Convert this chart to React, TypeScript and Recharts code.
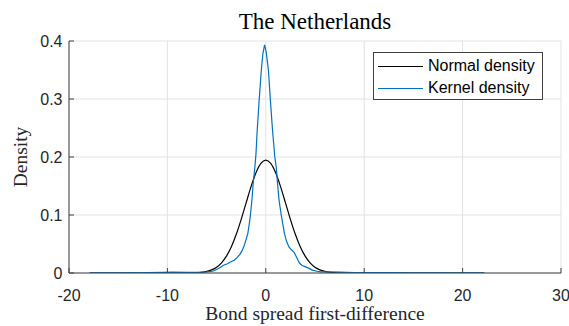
import { LineChart, Line, XAxis, YAxis, CartesianGrid, Legend } from 'recharts'

const AXIS = '#404040'
const GRID = '#e3e3e3'
const TXT = '#262626'
const BLUE = '#0072bd'
const SANS = '"Liberation Sans", Arial, sans-serif'
const SERIF = '"Liberation Serif", "Times New Roman", serif'

const SERIES_NAMES = ['Normal density', 'Kernel density']
const X_TICKS = [-20, -10, 0, 10, 20, 30]
const Y_TICKS = [0, 0.1, 0.2, 0.3, 0.4]

// normal density (black)
const normalX = [-17.9, -10, -9, -8, -7, -6.5, -6, -5.5, -5, -4.5, -4, -3.5, -3, -2.5, -2, -1.5, -1, -0.5, 0,
  0.5, 1, 1.5, 2, 2.5, 3, 3.5, 4, 4.5, 5, 5.5, 6, 6.5, 7, 8, 9, 10, 22.2]
const normalY = [0, 0, 0, 0.0001, 0.0006, 0.0013, 0.0027, 0.0053, 0.0099, 0.0175, 0.029, 0.0453, 0.0667, 0.0925, 0.1209, 0.1489, 0.1728, 0.1889, 0.1946,
  0.1889, 0.1728, 0.1489, 0.1209, 0.0925, 0.0667, 0.0453, 0.029, 0.0175, 0.0099, 0.0053, 0.0027, 0.0013, 0.0006, 0.0001, 0, 0, 0]

// kernel density (blue)
const kernelX = [-17.9, -15, -12, -10.5, -9.5, -8, -7, -6, -5.4, -5, -4.6, -4.3, -3.9, -3.6, -3.2, -2.9, -2.6, -2.4, -2.2, -2,
  -1.83, -1.7, -1.56, -1.4, -1.29, -1.12, -1, -0.87, -0.66, -0.46, -0.3, -0.12, 0.05, 0.27, 0.45, 0.68, 0.91, 1.07, 1.2, 1.35,
  1.57, 1.75, 1.9, 2.1, 2.35, 2.6, 2.86, 3.1, 3.3, 3.46, 3.7, 4.05, 4.4, 4.74, 5.2, 5.6, 6.5, 7.5, 9, 10.5, 12, 13, 15, 18, 22.2]
const kernelY = [0.0003, 0.0004, 0.0006, 0.0012, 0.0015, 0.001, 0.0012, 0.002, 0.003, 0.006, 0.01, 0.0135, 0.016, 0.019, 0.022, 0.027, 0.033, 0.039, 0.047, 0.058,
  0.068, 0.082, 0.1, 0.128, 0.153, 0.181, 0.205, 0.247, 0.302, 0.349, 0.378, 0.3935, 0.38, 0.349, 0.302, 0.247, 0.201, 0.181, 0.153, 0.125,
  0.1, 0.082, 0.068, 0.055, 0.045, 0.04, 0.036, 0.028, 0.021, 0.0164, 0.013, 0.0106, 0.008, 0.005, 0.003, 0.002, 0.0018, 0.0015, 0.0008, 0.0005, 0.0008, 0.0005, 0.0003, 0.0002, 0.0002]

const normal = normalX.map((x, i) => ({ x, y: normalY[i] }))
const kernel = kernelX.map((x, i) => ({ x, y: kernelY[i] }))

// MATLAB-style inward ticks
function BottomTick({ x, y, payload }: any) {
  return (
    <g>
      <line x1={x} x2={x} y1={y} y2={y - 5} stroke={AXIS} />
      <text x={x} y={y + 28} textAnchor="middle" fill={TXT} fontSize={16} fontFamily={SANS}>{payload.value}</text>
    </g>
  )
}
function TopTick({ x, y }: any) {
  return <line x1={x} x2={x} y1={y} y2={y + 5} stroke={AXIS} />
}
function LeftTick({ x, y, payload }: any) {
  return (
    <g>
      <line x1={x} x2={x + 5} y1={y} y2={y} stroke={AXIS} />
      <text x={x - 6.5} y={y} dy="0.36em" textAnchor="end" fill={TXT} fontSize={16} fontFamily={SANS}>{payload.value}</text>
    </g>
  )
}
function RightTick({ x, y }: any) {
  return <line x1={x} x2={x - 5} y1={y} y2={y} stroke={AXIS} />
}

function LegendBox({ payload }: any) {
  const items = [...(payload || [])].sort((a: any, b: any) => SERIES_NAMES.indexOf(a.value) - SERIES_NAMES.indexOf(b.value))
  return (
    <div style={{
      width: 168, height: 46, border: `1px solid ${AXIS}`, background: '#fff',
      fontFamily: SANS, fontSize: 16, color: '#000', boxSizing: 'content-box',
    }}>
      {items.map((p: any, i: number) => (
        <div key={i} style={{ display: 'flex', alignItems: 'center', height: 22, marginTop: i === 0 ? 2 : 0 }}>
          <span style={{ width: 45, height: 0, borderTop: `1.2px solid ${p.color}`, marginLeft: 4, marginRight: 5 }} />
          <span style={{ lineHeight: '22px' }}>{p.value}</span>
        </div>
      ))}
    </div>
  )
}

export default function App() {
  return (
    <div style={{ position: 'absolute', left: 0, top: 0, width: 569, height: 326, background: '#fff' }}>
      <LineChart width={569} height={326} margin={{ top: 41, right: 8, left: 0, bottom: 0 }}>
        <CartesianGrid stroke={GRID} />
        <XAxis xAxisId={0} type="number" dataKey="x" domain={[-20, 30]} ticks={X_TICKS} allowDataOverflow
          height={53} tickSize={0} tickMargin={0} tickLine={false} axisLine={{ stroke: AXIS }} tick={<BottomTick />} interval={0} />
        <XAxis xAxisId="top" orientation="top" type="number" dataKey="x" domain={[-20, 30]} ticks={X_TICKS} allowDataOverflow
          height={0} tickSize={0} tickMargin={0} tickLine={false} axisLine={{ stroke: AXIS }} tick={<TopTick />} interval={0} />
        <YAxis yAxisId={0} type="number" domain={[0, 0.4]} ticks={Y_TICKS} allowDataOverflow
          width={69} tickSize={0} tickMargin={0} tickLine={false} axisLine={{ stroke: AXIS }} tick={<LeftTick />} interval={0} />
        <YAxis yAxisId="right" orientation="right" type="number" domain={[0, 0.4]} ticks={Y_TICKS} allowDataOverflow
          width={0} tickSize={0} tickMargin={0} tickLine={false} axisLine={{ stroke: AXIS }} tick={<RightTick />} interval={0} />
        <Legend layout="horizontal" verticalAlign="middle" align="center" content={<LegendBox />}
          wrapperStyle={{ position: 'absolute', left: 373, top: 52, width: 170 }} />
        <Line data={normal} dataKey="y" name={SERIES_NAMES[0]} type="monotone" stroke="#000" strokeWidth={1.2}
          dot={false} isAnimationActive={false} />
        <Line data={kernel} dataKey="y" name={SERIES_NAMES[1]} type="linear" stroke={BLUE} strokeWidth={1.2}
          dot={false} isAnimationActive={false} />
      </LineChart>
      <svg width={569} height={326} style={{ position: 'absolute', left: 0, top: 0, pointerEvents: 'none' }}>
        <text x={315} y={29} textAnchor="middle" fontFamily={SERIF} fontSize={23} fill="#000">The Netherlands</text>
        <text x={315} y={320} textAnchor="middle" fontFamily={SERIF} fontSize={19.5} fill={TXT}>Bond spread first-difference</text>
        <text transform="translate(27,157) rotate(-90)" textAnchor="middle" fontFamily={SERIF} fontSize={19.5} fill={TXT}>Density</text>
      </svg>
    </div>
  )
}
